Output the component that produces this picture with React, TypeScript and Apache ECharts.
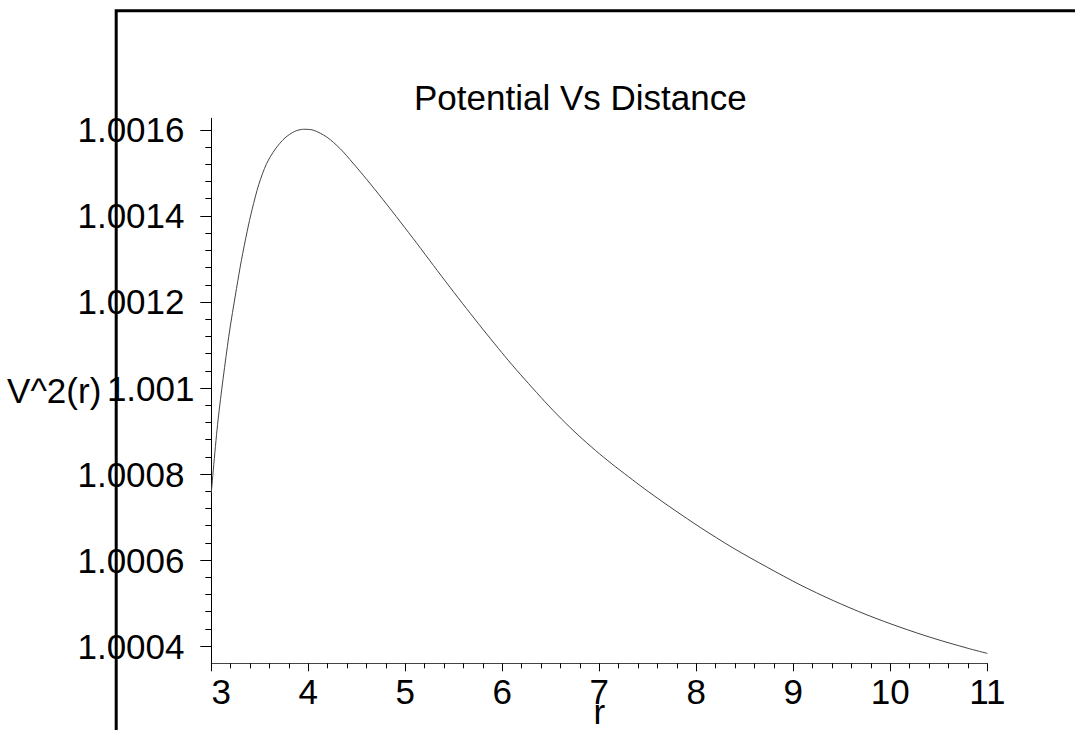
import React, { useEffect, useRef } from "react";
import * as echarts from "echarts";

// ---- data ----
const rValues = [
  3.0, 3.07, 3.18, 3.26, 3.31, 3.37, 3.42, 3.49, 3.57, 3.66,
  3.76, 3.86, 3.95, 4.05, 4.19, 4.33, 4.46, 4.6, 4.77, 4.95,
  5.12, 5.29, 5.46, 5.63, 5.8, 5.96, 6.1, 6.27, 6.44, 6.61,
  6.78, 6.96, 7.13, 7.3, 7.47, 7.64, 7.78, 8.04, 8.38, 8.73,
  9.07, 9.41, 9.76, 10.1, 10.44, 10.79, 11.0,
];
const vValues = [
  1.000756, 1.000926, 1.0011195, 1.0012315, 1.0012965, 1.0013645, 1.0014145, 1.0014735, 1.0015215, 1.0015555,
  1.0015815, 1.0015965, 1.0016015, 1.0015995, 1.0015835, 1.001556, 1.001523, 1.0014855, 1.001438, 1.001386,
  1.001336, 1.001285, 1.0012345, 1.001185, 1.0011365, 1.001092, 1.001054, 1.0010105, 1.000968, 1.000928,
  1.000891, 1.000855, 1.0008235, 1.000794, 1.000765, 1.0007375, 1.0007155, 1.000676, 1.000628, 1.0005835,
  1.0005425, 1.000506, 1.0004725, 1.000444, 1.0004185, 1.0003955, 1.000383,
];
const yMajorTicks = [1.0004, 1.0006, 1.0008, 1.001, 1.0012, 1.0014, 1.0016];
const yMajorLabels = ["1.0004", "1.0006", "1.0008", "1.001", "1.0012", "1.0014", "1.0016"];
const chartTitle = "Potential Vs Distance";
const xName = "r";
const yName = "V^2(r)";

const FONT = "'Liberation Sans', Arial, Helvetica, sans-serif";
const FS = 35;

export default function App() {
  const ref = useRef<HTMLDivElement>(null);
  useEffect(() => {
    if (!ref.current) return;
    const chart = echarts.init(ref.current, null, { renderer: "svg" });

    const yMinorTicks: number[] = [];
    for (let i = 0; i < yMajorTicks.length - 1; i++) {
      const a = yMajorTicks[i];
      const b = yMajorTicks[i + 1];
      for (let k = 1; k < 5; k++) yMinorTicks.push(a + ((b - a) * k) / 5);
    }

    const labelFor = (v: number) => {
      let idx = -1;
      yMajorTicks.forEach((t, i) => {
        if (Math.abs(t - v) < 1e-9) idx = i;
      });
      return idx >= 0 ? yMajorLabels[idx] : String(v);
    };

    const mainTicks = yMajorTicks.filter((t) => Math.abs(t - 1.001) > 1e-9);
    const shiftedTicks = yMajorTicks.filter((t) => Math.abs(t - 1.001) <= 1e-9);

    const data = rValues.map((r, i) => [r, vValues[i]]);
    const Y_MIN = 1.00036;
    const Y_MAX = 1.001627;

    chart.setOption({
      animation: false,
      backgroundColor: "#fff",
      title: {
        text: chartTitle,
        left: 414,
        top: 80,
        padding: 0,
        textStyle: { fontFamily: FONT, fontSize: FS, fontWeight: "normal", color: "#000" },
      },
      grid: {
        left: 211.3,
        right: 87.7,
        top: 118.3,
        bottom: 66.7,
        containLabel: false,
        outerBoundsMode: "none",
      },
      xAxis: {
        type: "value",
        min: 3,
        max: 11,
        interval: 1,
        name: xName,
        nameLocation: "middle",
        nameGap: 31,
        nameMoveOverlap: false,
        nameTextStyle: { fontFamily: FONT, fontSize: FS, color: "#000" },
        axisLine: { show: true, onZero: false, lineStyle: { color: "#444", width: 1 } },
        axisTick: { show: true, length: 8, lineStyle: { color: "#000", width: 1 } },
        minorTick: { show: true, splitNumber: 5, length: 5, lineStyle: { color: "#000", width: 1 } },
        splitLine: { show: false },
        minorSplitLine: { show: false },
        axisLabel: {
          margin: 11,
          color: "#000",
          fontFamily: FONT,
          fontSize: FS,
          hideOverlap: false,
          formatter: (v: number) => (Math.abs(v - 3) < 1e-9 ? "{f|3}" : String(v)),
          rich: {
            f: { fontFamily: FONT, fontSize: FS, color: "#000", padding: [0, 0, 0, 20] },
          },
        },
      },
      yAxis: [
        {
          type: "value",
          min: Y_MIN,
          max: Y_MAX,
          position: "left",
          name: yName,
          nameLocation: "middle",
          nameRotate: 0,
          nameGap: 110,
          nameMoveOverlap: false,
          nameTextStyle: {
            fontFamily: FONT,
            fontSize: FS,
            color: "#000",
            align: "right",
            verticalAlign: "middle",
            padding: [9, 0, 0, 0],
          },
          axisLine: { show: true, onZero: false, lineStyle: { color: "#000", width: 1 } },
          axisTick: {
            show: true,
            length: 11,
            customValues: yMajorTicks,
            lineStyle: { color: "#000", width: 1 },
          },
          splitLine: { show: false },
          axisLabel: {
            margin: 26.8,
            customValues: mainTicks,
            color: "#000",
            fontFamily: FONT,
            fontSize: FS,
            hideOverlap: false,
            padding: [4, 0, 0, 0],
            formatter: labelFor,
          },
        },
        {
          type: "value",
          min: Y_MIN,
          max: Y_MAX,
          position: "left",
          axisLine: { show: false },
          axisTick: {
            show: true,
            length: 6,
            customValues: yMinorTicks,
            lineStyle: { color: "#000", width: 1 },
          },
          axisLabel: {
            margin: 16.8,
            customValues: shiftedTicks,
            color: "#000",
            fontFamily: FONT,
            fontSize: FS,
            hideOverlap: false,
            padding: [4, 0, 0, 0],
            formatter: labelFor,
          },
          splitLine: { show: false },
        },
      ],
      graphic: [
        {
          type: "polyline",
          silent: true,
          shape: { points: [[1075, 10.7], [116.2, 10.7], [116.2, 730]] },
          style: { stroke: "#000", lineWidth: 3, fill: "none" },
          z: 10,
        },
      ],
      series: [
        {
          type: "line",
          xAxisIndex: 0,
          yAxisIndex: 0,
          data,
          smooth: 0.3,
          showSymbol: false,
          symbol: "none",
          lineStyle: { color: "#444", width: 1 },
        },
      ],
    });

    return () => chart.dispose();
  }, []);

  return (
    <div
      ref={ref}
      style={{ position: "absolute", left: 0, top: 0, width: 1075, height: 730 }}
    />
  );
}
